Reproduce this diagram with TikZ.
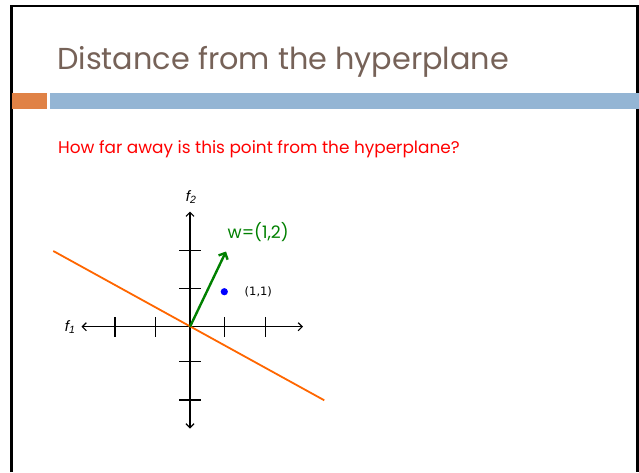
\documentclass[tikz,border=0pt]{standalone}
\usepackage{fontspec}
\setmainfont{Poppins}
\newfontfamily\labfont{Liberation Sans}
\newfontfamily\ptfont{DejaVu Sans}
\usetikzlibrary{arrows.meta}
\definecolor{titlebrown}{RGB}{118,98,88}
\definecolor{barorange}{RGB}{224,130,70}
\definecolor{barblue}{RGB}{148,181,212}
\definecolor{wgreen}{RGB}{0,128,0}
\definecolor{hporange}{RGB}{255,102,0}
\tikzset{
  axis/.style={line width=1.2pt, black, {Straight Barb[length=4pt,width=8pt]}-{Straight Barb[length=4pt,width=8pt]}},
  tick/.style={line width=1.2pt, black},
  frameline/.style={line width=2.6pt, black},
}
\begin{document}
\begin{tikzpicture}[x=1pt,y=-1pt]
\useasboundingbox (0,0) rectangle (639,472);
% frame
\draw[frameline] (11.5,472) -- (11.5,6) -- (637.5,6) -- (637.5,472);
% bars
\fill[barorange] (12,93) rectangle (47,109);
\fill[barblue] (50,93) rectangle (639,109);
% title
\node[anchor=base west, inner sep=0, text=titlebrown, font=\fontsize{30.3}{36}\selectfont] (title) at (57,69) {Distance from the hyperplane};
% question
\node[anchor=base west, inner sep=0, text=red, font=\fontsize{16.9}{20}\selectfont] (q) at (58,153.5) {How far away is this point from the hyperplane?};
% axes
\coordinate (O) at (190,326.7);
\coordinate (xl) at (81.5,326.7);
\coordinate (xr) at (303,326.7);
\coordinate (yt) at (190,211.5);
\coordinate (yb) at (190,428.5);
\draw[axis] (xl) -- (xr);
\draw[axis] (yt) -- (yb);
% ticks
\foreach \x in {115,155.7,224.3,265.7} \draw[tick] (\x,317) -- (\x,337);
\foreach \y in {250.7,288.7,361.7,400} \draw[tick] (179,\y) -- (201,\y);
% hyperplane
\coordinate (h1) at (53.3,251);
\coordinate (h2) at (324.3,400.3);
\draw[hporange, line width=1.8pt] (h1) -- (h2);
% w vector
\coordinate (wt) at (226,251.5);
\draw[wgreen, line width=2.4pt, -{Straight Barb[length=5pt,width=10pt]}] (O) -- (wt);
% point
\fill[blue] (224.3,291.7) circle (3.6) coordinate (p);
\node[anchor=west, inner sep=0, font=\ptfont\fontsize{11.5}{14}\selectfont] (pl) at (244.5,291.7) {(1,1)};
\node[anchor=west, inner sep=0, text=wgreen, font=\fontsize{17.2}{22}\selectfont] (wl) at (227.5,232) {w=(1,2)};
% axis labels
\node[inner sep=0, font=\labfont\itshape\fontsize{15}{17}\selectfont] (f2) at (191,197) {f\raisebox{-1.5pt}{\fontsize{10.5}{12}\selectfont 2}};
\node[inner sep=0, font=\labfont\itshape\fontsize{15}{17}\selectfont] (f1) at (70,327) {f\raisebox{-1.5pt}{\fontsize{10.5}{12}\selectfont 1}};
\end{tikzpicture}
\end{document}
